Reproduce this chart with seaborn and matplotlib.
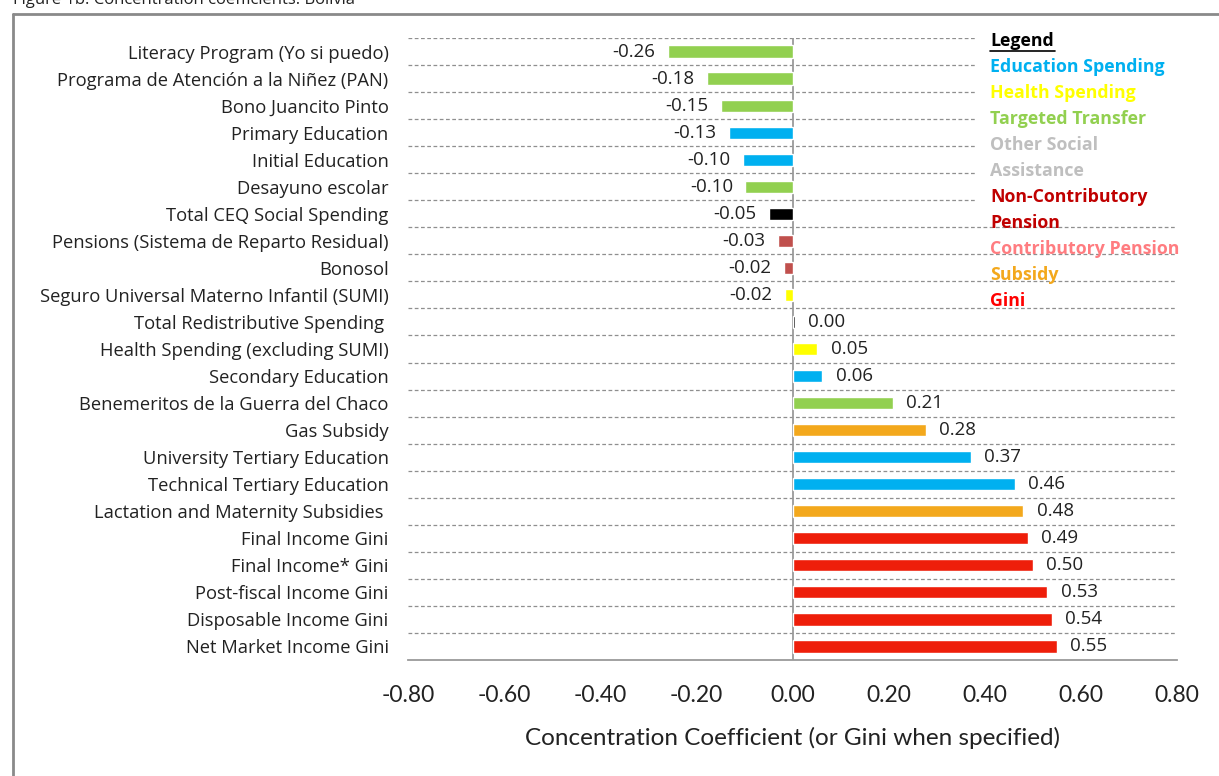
import matplotlib
matplotlib.use("Agg")
import matplotlib.pyplot as plt
import seaborn as sns
import pandas as pd
from matplotlib.lines import Line2D
from matplotlib.patches import Rectangle

sns.set_style("white")
plt.rcParams['font.family'] = ['Open Sans', 'DejaVu Sans']
plt.rcParams['axes.unicode_minus'] = False

categories = [
    "Literacy Program (Yo si puedo)",
    "Programa de Atención a la Niñez (PAN)",
    "Bono Juancito Pinto",
    "Primary Education",
    "Initial Education",
    "Desayuno escolar",
    "Total CEQ Social Spending",
    "Pensions (Sistema de Reparto Residual)",
    "Bonosol",
    "Seguro Universal Materno Infantil (SUMI)",
    "Total Redistributive Spending ",
    "Health Spending (excluding SUMI)",
    "Secondary Education",
    "Benemeritos de la Guerra del Chaco",
    "Gas Subsidy",
    "University Tertiary Education",
    "Technical Tertiary Education",
    "Lactation and Maternity Subsidies ",
    "Final Income Gini",
    "Final Income* Gini",
    "Post-fiscal Income Gini",
    "Disposable Income Gini",
    "Net Market Income Gini",
]
values = [-0.259, -0.178, -0.148, -0.132, -0.103, -0.098, -0.049, -0.031, -0.018,
          -0.016, 0.0049, 0.052, 0.062, 0.209, 0.277, 0.371, 0.463, 0.480,
          0.490, 0.500, 0.530, 0.540, 0.550]
groups = ["Targeted", "Targeted", "Targeted", "Education", "Education", "Targeted",
          "Total", "Pension", "Pension", "Health", "Total", "Health", "Education",
          "Targeted", "Subsidy", "Education", "Education", "Subsidy",
          "Gini", "Gini", "Gini", "Gini", "Gini"]
bar_palette = {"Targeted": "#92D050", "Education": "#00B0F0", "Total": "#000000",
               "Pension": "#C0504D", "Health": "#FFFF00", "Subsidy": "#F3A81C",
               "Gini": "#EE1E0A"}

legend_title = "Legend"
legend_items = ["Education Spending", "Health Spending", "Targeted Transfer",
                "Other Social", "Assistance", "Non-Contributory", "Pension",
                "Contributory Pension", "Subsidy", "Gini"]
legend_colors = ["#00B0F0", "#FFFF00", "#92D050", "#BFBFBF", "#BFBFBF",
                 "#C00000", "#C00000", "#FF7C80", "#F3A81C", "#FF0000"]

xticks = [-0.8, -0.6, -0.4, -0.2, 0.0, 0.2, 0.4, 0.6, 0.8]
xlabel = "Concentration Coefficient (or Gini when specified)"
title = "Figure 1b. Concentration coefficients: Bolivia"

df = pd.DataFrame({"category": categories, "value": values, "group": groups})

W, H = 1219, 776
fig = plt.figure(figsize=(W / 100, H / 100), dpi=100)
ax = fig.add_axes([408 / W, 1 - 660 / H, (1177 - 408) / W, (660 - 38) / H])

ax.axvline(0, color="#9a9a9a", lw=1.3, zorder=0.5)
sns.barplot(data=df, x="value", y="category", hue="group", palette=bar_palette,
            dodge=False, width=0.45, legend=False, ax=ax, orient="h",
            saturation=1, zorder=2)

ax.set_xlim(-0.8, 0.8)
ax.set_ylim(len(categories) - 0.5, -0.5)

# dashed gridlines at category boundaries
for b in range(len(categories)):
    ax.axhline(b - 0.5, color="#8f8f8f", lw=0.9, ls=(0, (3, 2)), zorder=0)

for s in ["top", "right", "left"]:
    ax.spines[s].set_visible(False)
ax.spines["bottom"].set_color("#9a9a9a")
ax.spines["bottom"].set_linewidth(1.3)

ax.set_xticks(xticks)
ax.set_xticklabels([f"{t:.2f}" for t in xticks], fontsize=16.5, color="#222222",
                   family=["Lato", "DejaVu Sans"])
ax.tick_params(axis="x", direction="out", length=7, width=1.2, color="#9a9a9a", pad=11)
ax.tick_params(axis="y", length=0, pad=14, labelsize=13.2, labelcolor="#222222")
ax.set_xlabel(xlabel, fontsize=17.5, color="#222222", labelpad=15,
              family=["Lato", "DejaVu Sans"])
ax.set_ylabel("")

for i, v in enumerate(values):
    if v < 0:
        ax.text(v - 0.026, i, f"{v:.2f}", ha="right", va="center", fontsize=13.5, color="#222222")
    else:
        ax.text(v + 0.028, i, f"{v:.2f}", ha="left", va="center", fontsize=13.5, color="#222222")

# legend (text-based, as in the original) on a white box
fig.add_artist(Rectangle((975 / W, 1 - 224 / H), (1200 - 975) / W, (224 - 27) / H,
                         transform=fig.transFigure, facecolor="white",
                         edgecolor="none", zorder=2))
lx = 990 / W
fig.text(lx, 1 - 41 / H, legend_title, ha="left", va="center", fontsize=12.8,
         fontweight="bold", color="#000000", zorder=3)
fig.add_artist(Line2D([lx, 1055 / W], [1 - 51 / H, 1 - 51 / H], color="#000000",
                      lw=1.2, zorder=3))
for k, (t, c) in enumerate(zip(legend_items, legend_colors)):
    fig.text(lx, 1 - (67 + 26 * k) / H, t, ha="left", va="center", fontsize=12.8,
             fontweight="bold", color=c, zorder=3)

# frame and clipped title
fig.add_artist(Line2D([13 / W, 13 / W], [0, 1 - 14 / H], color="#8a8a8a", lw=2))
fig.add_artist(Line2D([13 / W, 1], [1 - 14 / H, 1 - 14 / H], color="#8a8a8a", lw=2))
fig.text(13 / W, 1 - 4 / H, title, ha="left", va="baseline", fontsize=12, color="#222222")

fig.savefig("out.png", dpi=100)
